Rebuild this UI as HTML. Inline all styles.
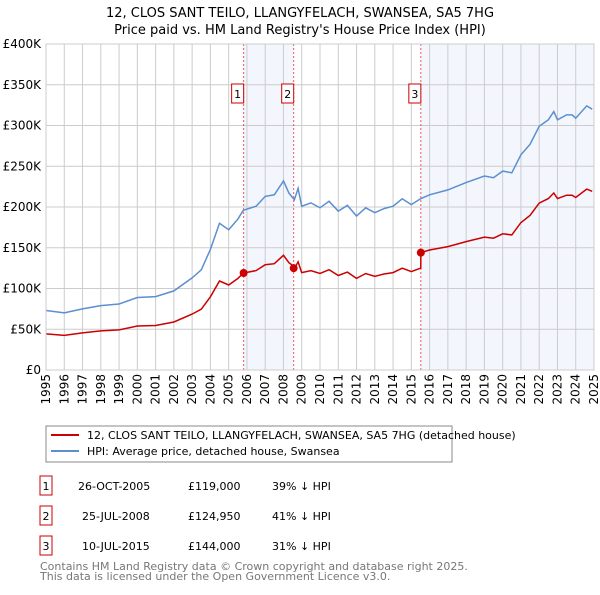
<!DOCTYPE html>
<html><head><meta charset="utf-8"><style>
body{margin:0;background:#fff;font-family:"Liberation Sans",sans-serif;}
svg text{font-family:"DejaVu Sans","Liberation Sans",sans-serif;}
</style></head><body>
<svg id="c" width="600" height="590" xmlns="http://www.w3.org/2000/svg">
<text x="300" y="17" text-anchor="middle" font-size="13">12, CLOS SANT TEILO, LLANGYFELACH, SWANSEA, SA5 7HG</text>
<text x="300" y="34" text-anchor="middle" font-size="13">Price paid vs. HM Land Registry's House Price Index (HPI)</text>
<g id="plot"></g>
<rect x="46" y="426" width="406" height="36" fill="#fff" stroke="#888"/>
<line x1="51" y1="435" x2="79" y2="435" stroke="#cc0000" stroke-width="2"/>
<text x="87" y="439" font-size="11">12, CLOS SANT TEILO, LLANGYFELACH, SWANSEA, SA5 7HG (detached house)</text>
<line x1="51" y1="451" x2="79" y2="451" stroke="#5b8fd0" stroke-width="2"/>
<text x="87" y="455" font-size="11">HPI: Average price, detached house, Swansea</text>
<g font-size="11">
<rect x="40" y="476" width="12" height="19" fill="none" stroke="#cc0000"/><text x="46" y="490" text-anchor="middle">1</text>
<text x="78" y="490">26-OCT-2005</text><text x="188" y="490">£119,000</text><text x="272" y="490">39% ↓ HPI</text>
<rect x="40" y="506" width="12" height="19" fill="none" stroke="#cc0000"/><text x="46" y="520" text-anchor="middle">2</text>
<text x="82" y="520">25-JUL-2008</text><text x="188" y="520">£124,950</text><text x="272" y="520">41% ↓ HPI</text>
<rect x="40" y="536" width="12" height="19" fill="none" stroke="#cc0000"/><text x="46" y="550" text-anchor="middle">3</text>
<text x="82" y="550">10-JUL-2015</text><text x="188" y="550">£144,000</text><text x="272" y="550">31% ↓ HPI</text>
</g>
<text x="40" y="570" font-size="11" fill="#777">Contains HM Land Registry data © Crown copyright and database right 2025.</text>
<text x="40" y="580" font-size="11" fill="#777">This data is licensed under the Open Government Licence v3.0.</text>
</svg>
<script>
const hpiTimes=[1995,1996,1997,1998,1999,2000,2001,2002,2003,2003.5,2004,2004.5,2005,2005.5,2005.8,2006.5,2007,2007.5,2008,2008.3,2008.6,2008.8,2009,2009.5,2010,2010.5,2011,2011.5,2012,2012.5,2013,2013.5,2014,2014.5,2015,2015.5,2016,2017,2018,2019,2019.5,2020,2020.5,2021,2021.5,2022,2022.5,2022.8,2023,2023.5,2023.8,2024,2024.6,2024.9];
const hpiValues=[73,70,75,79,81,89,90,97,113,123,148,180,172,185,196,201,213,215,232,217,209,223,201,205,199,207,195,202,189,199,193,198,201,210,203,210,215,221,230,238,236,244,242,264,277,299,307,317,307,313,313,309,324,320];
const saleTimes=[2005.82,2008.56,2015.52];
const salePrices=[119,124.95,144];
const saleLabels=["1","2","3"];
const yTicks=[0,50,100,150,200,250,300,350,400];
const yTickLabels=["£0","£50K","£100K","£150K","£200K","£250K","£300K","£350K","£400K"];
const xTicks=[1995,1996,1997,1998,1999,2000,2001,2002,2003,2004,2005,2006,2007,2008,2009,2010,2011,2012,2013,2014,2015,2016,2017,2018,2019,2020,2021,2022,2023,2024,2025];

const X0=46,X1=594,Y0=370,Y1=44;
const xs=t=>X0+(t-1995)/30*(X1-X0);
const ys=v=>Y0-v/400*(Y0-Y1);
const NS="http://www.w3.org/2000/svg";
const g=document.getElementById('plot');
function mk(tag,attrs){const e=document.createElementNS(NS,tag);for(const k in attrs)e.setAttribute(k,attrs[k]);g.appendChild(e);return e;}
function hpiAt(t){for(let i=0;i<hpiTimes.length-1;i++){if(t>=hpiTimes[i]&&t<=hpiTimes[i+1]){const f=(t-hpiTimes[i])/(hpiTimes[i+1]-hpiTimes[i]);return hpiValues[i]+f*(hpiValues[i+1]-hpiValues[i]);}}return hpiValues[hpiValues.length-1];}

let s1=mk('rect',{x:xs(saleTimes[0]),y:Y1,width:xs(saleTimes[1])-xs(saleTimes[0]),height:Y0-Y1,fill:'#f3f6fd'});


let s2=mk('rect',{x:xs(saleTimes[2]),y:Y1,width:X1-xs(saleTimes[2]),height:Y0-Y1,fill:'#f3f6fd'});


yTicks.forEach((v,i)=>{
 let l=mk('line',{x1:X0,x2:X1,y1:ys(v),y2:ys(v),stroke:'#ccc'});
 
 
 let t=mk('text',{x:41,y:ys(v)+4,'text-anchor':'end','font-size':'12'});t.textContent=yTickLabels[i];
 
 
});
xTicks.forEach(yr=>{
 let l=mk('line',{x1:xs(yr),x2:xs(yr),y1:Y1,y2:Y0,stroke:'#ccc'});
 
 
 let t=mk('text',{x:0,y:0,'font-size':'12','text-anchor':'end',transform:`translate(${xs(yr)+4},374) rotate(-90)`});t.textContent=yr;
 
 
});
saleTimes.forEach((t,i)=>{
 let l=mk('line',{x1:xs(t),x2:xs(t),y1:Y1,y2:Y0,stroke:'#ee5555','stroke-dasharray':'2,2','stroke-width':1});
 
 
 let r=mk('rect',{x:xs(t)-12,y:84,width:12,height:19,fill:'#fff',stroke:'#cc0000'});
 
 
 let tx=mk('text',{x:xs(t)-6,y:98,'text-anchor':'middle','font-size':'11'});tx.textContent=saleLabels[i];
 
 
});
let d=hpiTimes.map((t,i)=>(i?'L':'M')+xs(t).toFixed(1)+','+ys(hpiValues[i]).toFixed(1)).join('');
let hl=mk('path',{d:d,fill:'none',stroke:'#5b8fd0','stroke-width':1.5});


function ratioAt(t){let k=0;for(let i=0;i<saleTimes.length;i++)if(t>=saleTimes[i])k=i;return salePrices[k]/hpiAt(saleTimes[k]);}
const pts=[];
const allT=hpiTimes.concat(saleTimes).concat(saleTimes.map(t=>t-0.001)).sort((a,b)=>a-b);
allT.forEach(t=>pts.push([t,hpiAt(t)*ratioAt(t)]));
let pd=pts.map((p,i)=>(i?'L':'M')+xs(p[0]).toFixed(1)+','+ys(p[1]).toFixed(1)).join('');
let pl=mk('path',{d:pd,fill:'none',stroke:'#cc0000','stroke-width':1.5});


saleTimes.forEach((t,i)=>{
 let c=mk('circle',{cx:xs(t),cy:ys(salePrices[i]),r:4,fill:'#cc0000'});
 
 
});
let ax=mk('rect',{x:X0,y:Y1,width:X1-X0,height:Y0-Y1,fill:'none',stroke:'#ccc'});


</script>
</body></html>
